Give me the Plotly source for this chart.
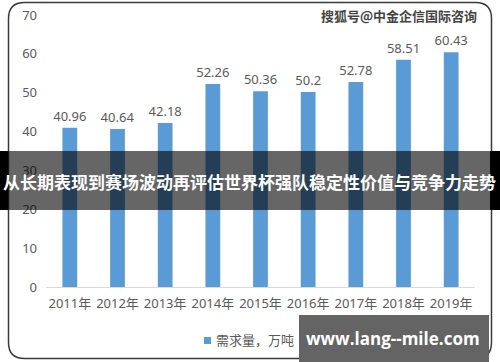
import plotly.graph_objects as go

years = ["2011年", "2012年", "2013年", "2014年", "2015年", "2016年", "2017年", "2018年", "2019年"]
demand = [40.96, 40.64, 42.18, 52.26, 50.36, 50.2, 52.78, 58.51, 60.43]
value_labels = ["40.96", "40.64", "42.18", "52.26", "50.36", "50.2", "52.78", "58.51", "60.43"]
series_name = "需求量，万吨"
banner_text = "从长期表现到赛场波动再评估世界杯强队稳定性价值与竞争力走势"
watermark = "搜狐号@中金企信国际咨询"
site_text = "www.lang--mile.com"

W, H = 500, 362
L, R, T, B = 46, 25, 15, 75
PW, PH = W - L - R, H - T - B

def px(x):
    return (x - L) / PW

def py(y):
    return (H - B - y) / PH

FONT = "Noto Sans, Noto Sans CJK SC, sans-serif"
GREY = "#595959"
BAR = "#5b9bd5"

fig = go.Figure()
fig.add_trace(go.Bar(
    x=years, y=demand, name=series_name, showlegend=False,
    marker=dict(color=BAR, line=dict(width=0)),
    text=value_labels, textposition="outside", cliponaxis=False, constraintext="none",
    textfont=dict(size=13, color=GREY, family=FONT),
    hoverinfo="skip",
))

# rounded frame
x0, x1, y0, y1, r = 8.5, 491.5, 2.5, 358.5, 16
def P(x, y):
    return f"{px(x):.5f},{py(y):.5f}"
path = (f"M {P(x0 + r, y0)} L {P(x1 - r, y0)} Q {P(x1, y0)} {P(x1, y0 + r)} "
        f"L {P(x1, y1 - r)} Q {P(x1, y1)} {P(x1 - r, y1)} L {P(x0 + r, y1)} "
        f"Q {P(x0, y1)} {P(x0, y1 - r)} L {P(x0, y0 + r)} Q {P(x0, y0)} {P(x0 + r, y0)} Z")
shapes = [
    dict(type="path", path=path, xref="paper", yref="paper",
         line=dict(color="#3a3a3a", width=1.5), fillcolor="rgba(0,0,0,0)", layer="below"),
    # legend marker
    dict(type="rect", xref="paper", yref="paper", x0=px(204), x1=px(211), y0=py(344), y1=py(337),
         fillcolor=BAR, line=dict(width=0), layer="above"),
    # banner overlay
    dict(type="rect", xref="paper", yref="paper", x0=px(8), x1=px(490), y0=py(210), y1=py(151),
         fillcolor="rgba(0,0,0,0.6)", line=dict(width=0), layer="above"),
    dict(type="rect", xref="paper", yref="paper", x0=px(0), x1=px(8), y0=py(210), y1=py(151),
         fillcolor="#000000", line=dict(width=0), layer="above"),
    dict(type="rect", xref="paper", yref="paper", x0=px(490), x1=px(500), y0=py(210), y1=py(151),
         fillcolor="#000000", line=dict(width=0), layer="above"),
    # site box
    dict(type="rect", xref="paper", yref="paper", x0=px(299), x1=px(489), y0=py(362), y1=py(315),
         fillcolor="#646464", line=dict(width=0), layer="above"),
]

annotations = [
    dict(text=series_name, xref="paper", yref="paper", x=px(214), y=py(340),
         xanchor="left", yanchor="middle", showarrow=False,
         font=dict(size=13, color=GREY, family=FONT)),
    dict(text=f"<b>{banner_text}</b>", xref="paper", yref="paper", x=px(249), y=py(181),
         xanchor="center", yanchor="middle", showarrow=False,
         font=dict(size=17, color="white", family="Noto Sans CJK SC, sans-serif")),
    dict(text=f"<b>{watermark}</b>", xref="paper", yref="paper", x=px(479), y=py(15),
         xanchor="right", yanchor="middle", showarrow=False,
         font=dict(size=13, color="#444444", family="Noto Sans CJK SC, sans-serif")),
    dict(text=f"<b>{site_text}</b>", xref="paper", yref="paper", x=px(393), y=py(338),
         xanchor="center", yanchor="middle", showarrow=False,
         font=dict(size=17, color="white", family="Open Sans, Noto Sans, sans-serif")),
]

fig.update_layout(
    width=W, height=H, margin=dict(l=L, r=R, t=T, b=B, autoexpand=False),
    paper_bgcolor="white", plot_bgcolor="white",
    font=dict(family=FONT, size=13, color=GREY),
    bargap=0.69,
    showlegend=False,
    shapes=shapes, annotations=annotations,
    xaxis=dict(showgrid=False, showline=True, linecolor="#d9d9d9", linewidth=1, automargin=False,
               ticks="", tickfont=dict(size=13, color=GREY), ticklabelstandoff=4),
    yaxis=dict(range=[0, 70], dtick=10, showgrid=False, zeroline=False, showline=False, automargin=False,
               ticks="", tickfont=dict(size=13, color=GREY), ticklabelstandoff=8),
)

fig.write_html("out.html", config={"displayModeBar": False},
               post_script="document.body.style.margin='0px';document.body.style.overflow='hidden';")
